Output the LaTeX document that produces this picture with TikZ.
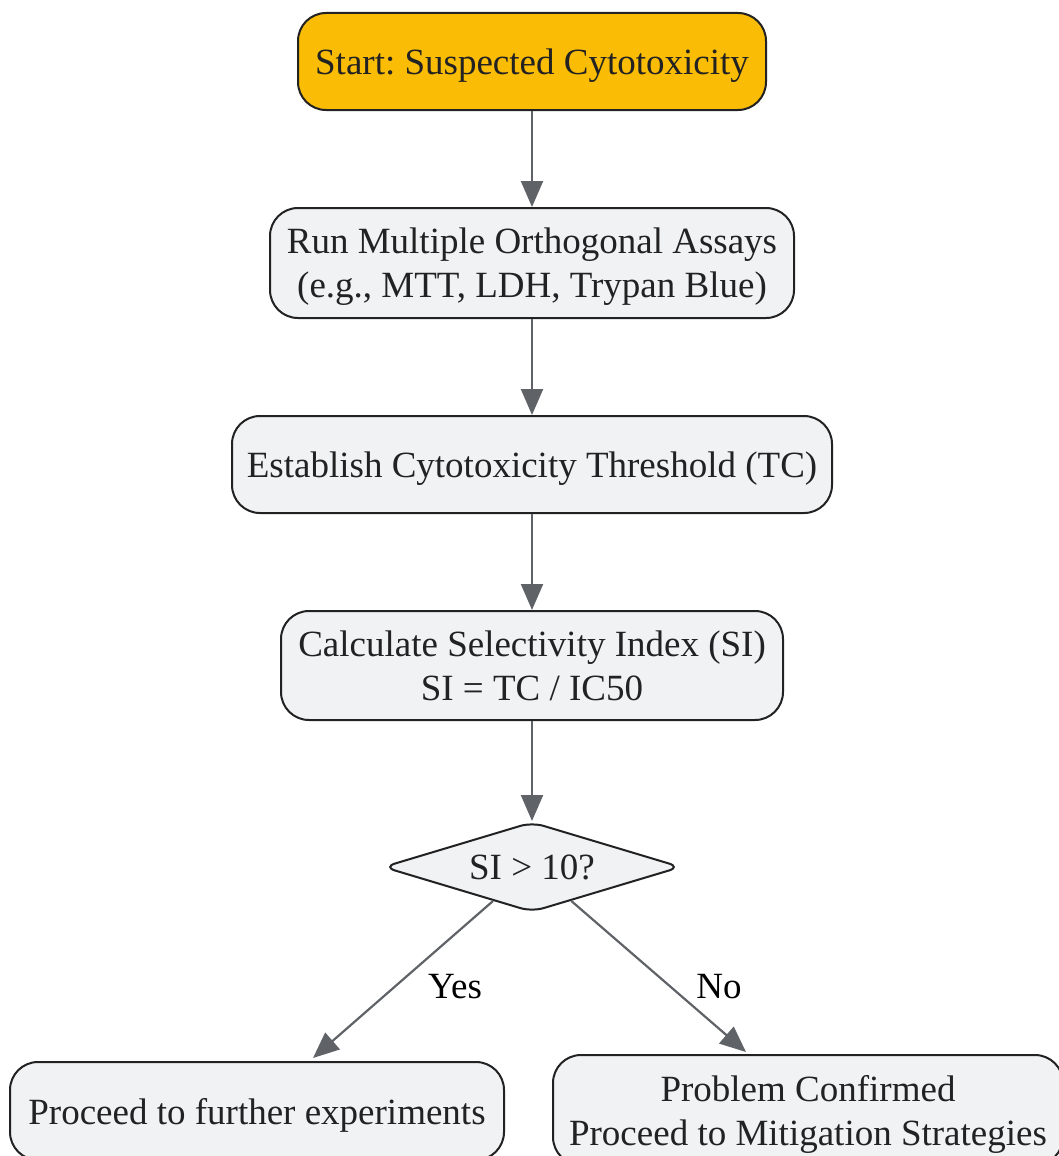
\documentclass[tikz,border=0pt]{standalone}
\usepackage{fontspec}
\setmainfont{Liberation Serif}
\usetikzlibrary{shapes.geometric,arrows.meta,calc}
\definecolor{startfill}{HTML}{FABC05}
\definecolor{boxfill}{HTML}{F1F2F4}
\definecolor{edgec}{HTML}{222222}
\definecolor{arrowc}{HTML}{5F6368}
\definecolor{txt}{HTML}{222222}
\frenchspacing
\begin{document}
\begin{tikzpicture}[x=1pt,y=-1pt,
  box/.style={draw=edgec, line width=2pt, fill=boxfill, rounded corners=28pt,
    align=center, text=txt, font=\fontsize{37}{44}\selectfont, inner sep=0pt, text depth=0pt},
  startbox/.style={box, fill=startfill},
  decision/.style={diamond, draw=edgec, line width=2pt, fill=boxfill, rounded corners=12pt,
    aspect=3.37, minimum width=298pt, minimum height=90pt, inner sep=0pt,
    text=txt, font=\fontsize{37}{44}\selectfont},
  conn/.style={draw=arrowc, line width=2.2pt, -{Triangle[length=26pt,width=22pt]}},
  lbl/.style={font=\fontsize{37}{44}\selectfont, text=black, inner sep=0pt}
]
\useasboundingbox (0,0) rectangle (1058,1156);
\node[startbox, minimum width=468pt, minimum height=97pt] (s) at (532,61.5) {Start: Suspected Cytotoxicity};
\node[box, minimum width=524pt, minimum height=110pt] (r) at (532,263) {Run Multiple Orthogonal Assays\\(e.g., MTT, LDH, Trypan Blue)};
\node[box, minimum width=600pt, minimum height=97pt] (e) at (532,464.5) {Establish Cytotoxicity Threshold (TC)};
\node[box, minimum width=502pt, minimum height=109pt] (c) at (532,665.5) {Calculate Selectivity Index (SI)\\SI = TC / IC50};
\node[decision] (d) at (532,867) {SI > 10?};
\node[box, minimum width=494pt, minimum height=98pt] (y) at (257,1111) {Proceed to further experiments};
\node[box, minimum width=510pt, minimum height=110pt] (n) at (808,1110) {Problem Confirmed\\Proceed to Mitigation Strategies};
\coordinate (ye) at (313,1058);
\coordinate (ne) at (746,1052);
\draw[conn] (s) -- (r);
\draw[conn] (r) -- (e);
\draw[conn] (e) -- (c);
\draw[conn] (c) -- (d);
\draw[conn] (d) -- (ye);
\draw[conn] (d) -- (ne);
\node[lbl] (ly) at (455,987) {Yes};
\node[lbl] (ln) at (719,987) {No};
\end{tikzpicture}
\end{document}
